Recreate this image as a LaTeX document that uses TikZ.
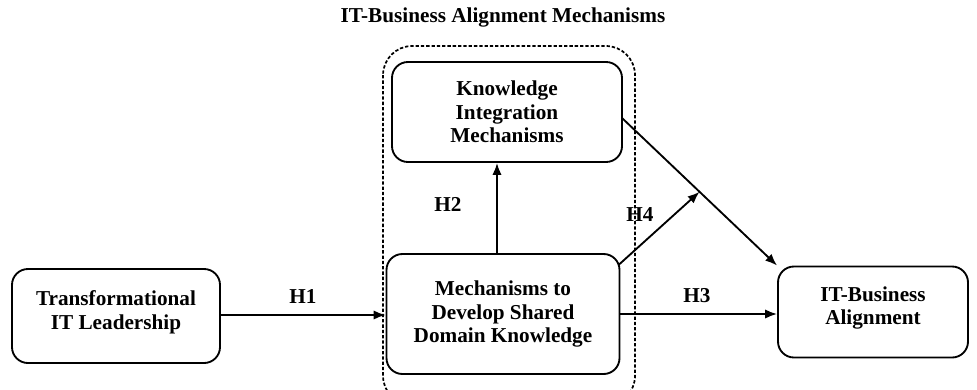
\documentclass[tikz,border=0pt]{standalone}
\usepackage{fontspec}
\setmainfont{Liberation Serif}
\usetikzlibrary{positioning,shapes,arrows,arrows.meta}

\tikzset{
  block/.style={rectangle, rounded corners=12pt, draw=black, line width=1.4pt,
    align=center, font=\fontsize{16}{17.7}\selectfont\bfseries, inner sep=2pt},
  link/.style={-{Latex[length=9pt,width=7pt]}, line width=1.4pt},
  hyp/.style={font=\fontsize{16}{17.7}\selectfont\bfseries}
}

\begin{document}
\begin{tikzpicture}[x=0.0265cm, y=-0.0265cm]
  % \draw[help lines] (0, 0) grid (977, 389);
  \useasboundingbox (0,0) rectangle (977,389);

  \node [hyp] (title) at (503, 17) {IT-Business Alignment Mechanisms};

  % group of mechanisms
  \draw[dashed, dash pattern=on 2.5pt off 1.5pt, line width=1.3pt, rounded corners=22pt] (383, 46) rectangle (635, 405);

  \node [block, minimum width=230*0.0265cm, minimum height=100*0.0265cm] (kim) at (507, 112)
        {Knowledge\\Integration\\Mechanisms};
  \node [block, minimum width=233*0.0265cm, minimum height=120*0.0265cm] (msk) at (503, 314)
        {Mechanisms to\\Develop Shared\\Domain Knowledge};
  \node [block, minimum width=208*0.0265cm, minimum height=94*0.0265cm] (til) at (116, 316)
        {Transformational\\IT Leadership\\[-8.7pt]\mbox{}};
  \node [block, minimum width=190*0.0265cm, minimum height=91*0.0265cm] (itba) at (873, 312)
        {IT-Business\\Alignment\\[-7.7pt]\mbox{}};

  \draw[link] (til.east |- 0,315) -- (msk.west |- 0,315);
  \draw[link] (msk.north -| 497,0) -- (kim.south -| 497,0);
  \draw[link] (msk.east |- 0,314) -- (itba.west |- 0,314);
  \draw[link] (622, 118) -- coordinate[pos=0.5] (mod) (itba.north west);
  \draw[link] (msk.north east) ++(-2,12) coordinate (h4s) -- (mod);

  \node [hyp] (h1) at (303, 296) {H1};
  \node [hyp] (h2) at (448, 204) {H2};
  \node [hyp] (h3) at (697, 296) {H3};
  \node [hyp] (h4) at (640, 215) {H4};
\end{tikzpicture}
\end{document}
